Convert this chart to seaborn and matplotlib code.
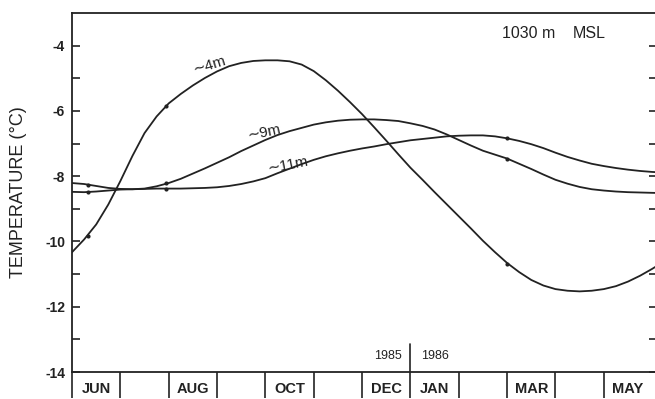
import numpy as np
import pandas as pd
import matplotlib
matplotlib.use("Agg")
import matplotlib.pyplot as plt
import seaborn as sns

# Months counted from 1 June 1985 (0 = start of June, 12 = end of May 1986)
month_labels = ["JUN", "", "AUG", "", "OCT", "", "DEC", "JAN", "", "MAR", "", "MAY"]

# Smoothed temperature curves, sampled every quarter month (°C)
curve_month = [i * 0.25 for i in range(50)]

temp_4m = [-10.33, -9.94, -9.48, -8.87, -8.15, -7.38, -6.68, -6.17, -5.77, -5.48,
           -5.22, -4.99, -4.79, -4.63, -4.53, -4.47, -4.45, -4.45, -4.48, -4.58,
           -4.78, -5.06, -5.38, -5.73, -6.10, -6.50, -6.91, -7.33, -7.74, -8.11,
           -8.49, -8.86, -9.23, -9.60, -9.98, -10.33, -10.66, -10.94, -11.18, -11.35,
           -11.46, -11.51, -11.53, -11.51, -11.46, -11.37, -11.23, -11.05, -10.84, -10.61]

temp_9m = [-8.21, -8.24, -8.30, -8.36, -8.39, -8.40, -8.38, -8.31, -8.21, -8.08,
           -7.92, -7.76, -7.59, -7.42, -7.23, -7.06, -6.89, -6.74, -6.62, -6.52,
           -6.42, -6.35, -6.30, -6.27, -6.26, -6.26, -6.28, -6.31, -6.38, -6.46,
           -6.57, -6.72, -6.89, -7.06, -7.22, -7.34, -7.46, -7.62, -7.78, -7.95,
           -8.11, -8.23, -8.33, -8.40, -8.44, -8.47, -8.49, -8.50, -8.51, -8.52]

temp_11m = [-8.48, -8.49, -8.47, -8.44, -8.41, -8.40, -8.39, -8.38, -8.38, -8.38,
            -8.37, -8.36, -8.34, -8.30, -8.24, -8.16, -8.06, -7.91, -7.77, -7.63,
            -7.50, -7.39, -7.30, -7.22, -7.15, -7.09, -7.02, -6.96, -6.90, -6.86,
            -6.82, -6.78, -6.76, -6.75, -6.75, -6.78, -6.84, -6.92, -7.02, -7.14,
            -7.28, -7.41, -7.52, -7.62, -7.69, -7.75, -7.80, -7.84, -7.87, -7.89]

# Measurement dates and readings
obs_month = [0.33, 1.94, 8.99]
obs_4m = [-9.82, -5.84, -10.68]
obs_9m = [-8.26, -8.22, -7.46]
obs_11m = [-8.49, -8.38, -6.84]

curves = pd.concat([
    pd.DataFrame({"month": curve_month, "temp": temp_4m, "depth": "4m"}),
    pd.DataFrame({"month": curve_month, "temp": temp_9m, "depth": "9m"}),
    pd.DataFrame({"month": curve_month, "temp": temp_11m, "depth": "11m"}),
])
obs = pd.DataFrame({
    "month": obs_month * 3,
    "temp": obs_4m + obs_9m + obs_11m,
})

sns.set_theme(style="ticks")
plt.rcParams["font.family"] = ["Liberation Sans", "DejaVu Sans"]
plt.rcParams["axes.unicode_minus"] = False

ink = "#222222"
fig = plt.figure(figsize=(6.55, 3.99), dpi=100)
ax = fig.add_axes([72 / 655, 27 / 399, 585 / 655, 359 / 399])

sns.lineplot(data=curves, x="month", y="temp", hue="depth",
             palette=[ink] * 3, linewidth=1.3, legend=False, ax=ax,
             estimator=None, sort=True)
sns.scatterplot(data=obs, x="month", y="temp", color=ink, s=9,
                edgecolor=ink, linewidth=0, ax=ax, zorder=3)

ax.set_xlim(0, 12.1)
ax.set_ylim(-14, -3)

# Month separators below the axis and month names centred between them
ax.set_xticks(np.arange(0, 12))
ax.set_xticklabels([])
ax.set_xticks(np.arange(12) + 0.5, minor=True)
ax.set_xticklabels(month_labels, minor=True, fontsize=10.5, fontweight="bold",
                   color=ink)
ax.tick_params(axis="x", which="major", direction="out", length=19, width=1.2,
               color=ink)
ax.tick_params(axis="x", which="minor", length=0, pad=7)

ax.set_yticks(np.arange(-14, -3, 2))
ax.set_yticks(np.arange(-13, -4, 2), minor=True)
ax.tick_params(axis="y", which="both", direction="in", length=6, width=1.2,
               left=True, right=True, color=ink, labelsize=10, pad=5)
for t in ax.get_yticklabels():
    t.set_fontweight("bold")
    t.set_color(ink)

for s in ax.spines.values():
    s.set_linewidth(1.3)
    s.set_color(ink)

ax.set_xlabel("")
ax.set_ylabel("TEMPERATURE (°C)", fontsize=13, color=ink)
ax.yaxis.set_label_coords(-0.077, 0.5)

# Year boundary between December and January
ax.axvline(7, ymin=0, ymax=0.078, color=ink, linewidth=1.2)
ax.text(6.82, -13.5, "1985", ha="right", va="center", fontsize=9, color=ink)
ax.text(7.22, -13.5, "1986", ha="left", va="center", fontsize=9, color=ink)

# Station elevation
ax.text(8.89, -3.63, "1030 m", ha="left", va="center", fontsize=11.5, color=ink)
ax.text(10.36, -3.63, "MSL", ha="left", va="center", fontsize=11.5, color=ink)

# Depth labels along the curves
ax.text(2.85, -4.6, "\u223c4m", rotation=17, ha="center", va="center",
        fontsize=11, color=ink)
ax.text(3.97, -6.65, "\u223c9m", rotation=12, ha="center", va="center",
        fontsize=11, color=ink)
ax.text(4.47, -7.66, "\u223c11m", rotation=11, ha="center", va="center",
        fontsize=11, color=ink)

fig.savefig("out.png", dpi=100, facecolor="white")
